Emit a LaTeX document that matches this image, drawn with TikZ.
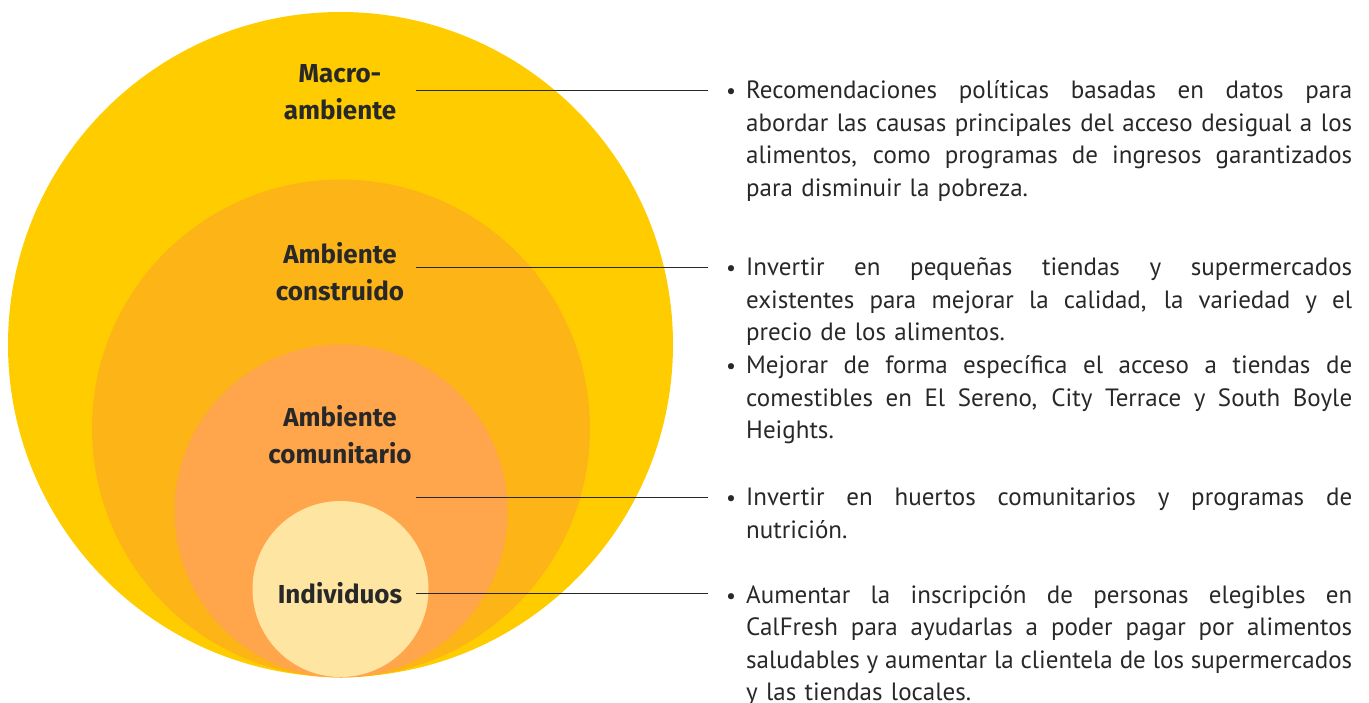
\documentclass[tikz,border=0pt]{standalone}
\usepackage{fontspec}
\setmainfont{PT Sans}
\newfontfamily\lblfont{Fira Sans}
\definecolor{cmacro}{RGB}{255,204,0}
\definecolor{cbuilt}{RGB}{253,180,22}
\definecolor{ccomm}{RGB}{255,165,75}
\definecolor{cind}{RGB}{255,229,162}
\definecolor{ink}{RGB}{40,40,40}
\newcommand\jline[1]{\leavevmode\hbox to 606pt{\spaceskip=.26em plus 1fil minus .13em\relax #1}}
\begin{document}
\begin{tikzpicture}[x=1pt,y=-1pt,
  ring/.style={circle,inner sep=0pt,draw=none},
  lbl/.style={align=center,text=ink,font=\lblfont\bfseries\fontsize{26}{37}\selectfont},
  body/.style={anchor=base west,inner sep=0pt,text width=606pt,align=left,text=ink,font=\fontsize{25}{32.6}\selectfont},
  bul/.style={anchor=base,inner sep=0pt,text=ink,font=\fontsize{22}{32.6}\selectfont},
  conn/.style={draw=ink,line width=0.9pt}]
\useasboundingbox (0,0) rectangle (1369,702);
\node[ring,fill=cmacro,minimum size=665pt] (rmacro) at (340.5,344.5) {};
\node[ring,fill=cbuilt,minimum size=498pt] (rbuilt) at (341,428.5) {};
\node[ring,fill=ccomm,minimum size=333pt] (rcomm) at (341,511) {};
\node[ring,fill=cind,minimum size=176pt] (rind) at (340.5,589) {};
\node[lbl] (lmacro) at (340,92) {Macro-\\ambiente};
\node[lbl] (lbuilt) at (340,272) {Ambiente\\construido};
\node[lbl] (lcomm) at (340,435) {Ambiente\\comunitario};
\node[lbl] (lind) at (340,593) {Individuos};
\coordinate (s1) at (416,90); \coordinate (e1) at (708,90);
\coordinate (s2) at (416,267); \coordinate (e2) at (708,267);
\coordinate (s3) at (416,497); \coordinate (e3) at (708,497);
\coordinate (s4) at (416,593); \coordinate (e4) at (708,593);
\draw[conn] (s1) -- (e1);
\draw[conn] (s2) -- (e2);
\draw[conn] (s3) -- (e3);
\draw[conn] (s4) -- (e4);
\node[bul] (b1) at (731,98.5) {•};
\node[bul] (b2) at (731,275.5) {•};
\node[bul] (b2b) at (731,373.5) {•};
\node[bul] (b3) at (731,505.5) {•};
\node[bul] (b4) at (731,603) {•};
\node[body] (t1) at (746,98.5) {\jline{Recomendaciones políticas basadas en datos para}\\\jline{abordar las causas principales del acceso desigual a los}\\\jline{alimentos, como programas de ingresos garantizados}\\para disminuir la pobreza.};
\node[body] (t2) at (746,275.5) {\jline{Invertir en pequeñas tiendas y supermercados}\\\jline{existentes para mejorar la calidad, la variedad y el}\\precio de los alimentos.};
\node[body] (t2b) at (746,373.5) {\jline{Mejorar de forma específica el acceso a tiendas de}\\\jline{comestibles en El Sereno, City Terrace y South Boyle}\\Heights.};
\node[body] (t3) at (746,505.5) {\jline{Invertir en huertos comunitarios y programas de}\\nutrición.};
\node[body] (t4) at (746,603) {\jline{Aumentar la inscripción de personas elegibles en}\\\jline{CalFresh para ayudarlas a poder pagar por alimentos}\\\jline{saludables y aumentar la clientela de los supermercados}\\y las tiendas locales.};
\end{tikzpicture}
\end{document}
